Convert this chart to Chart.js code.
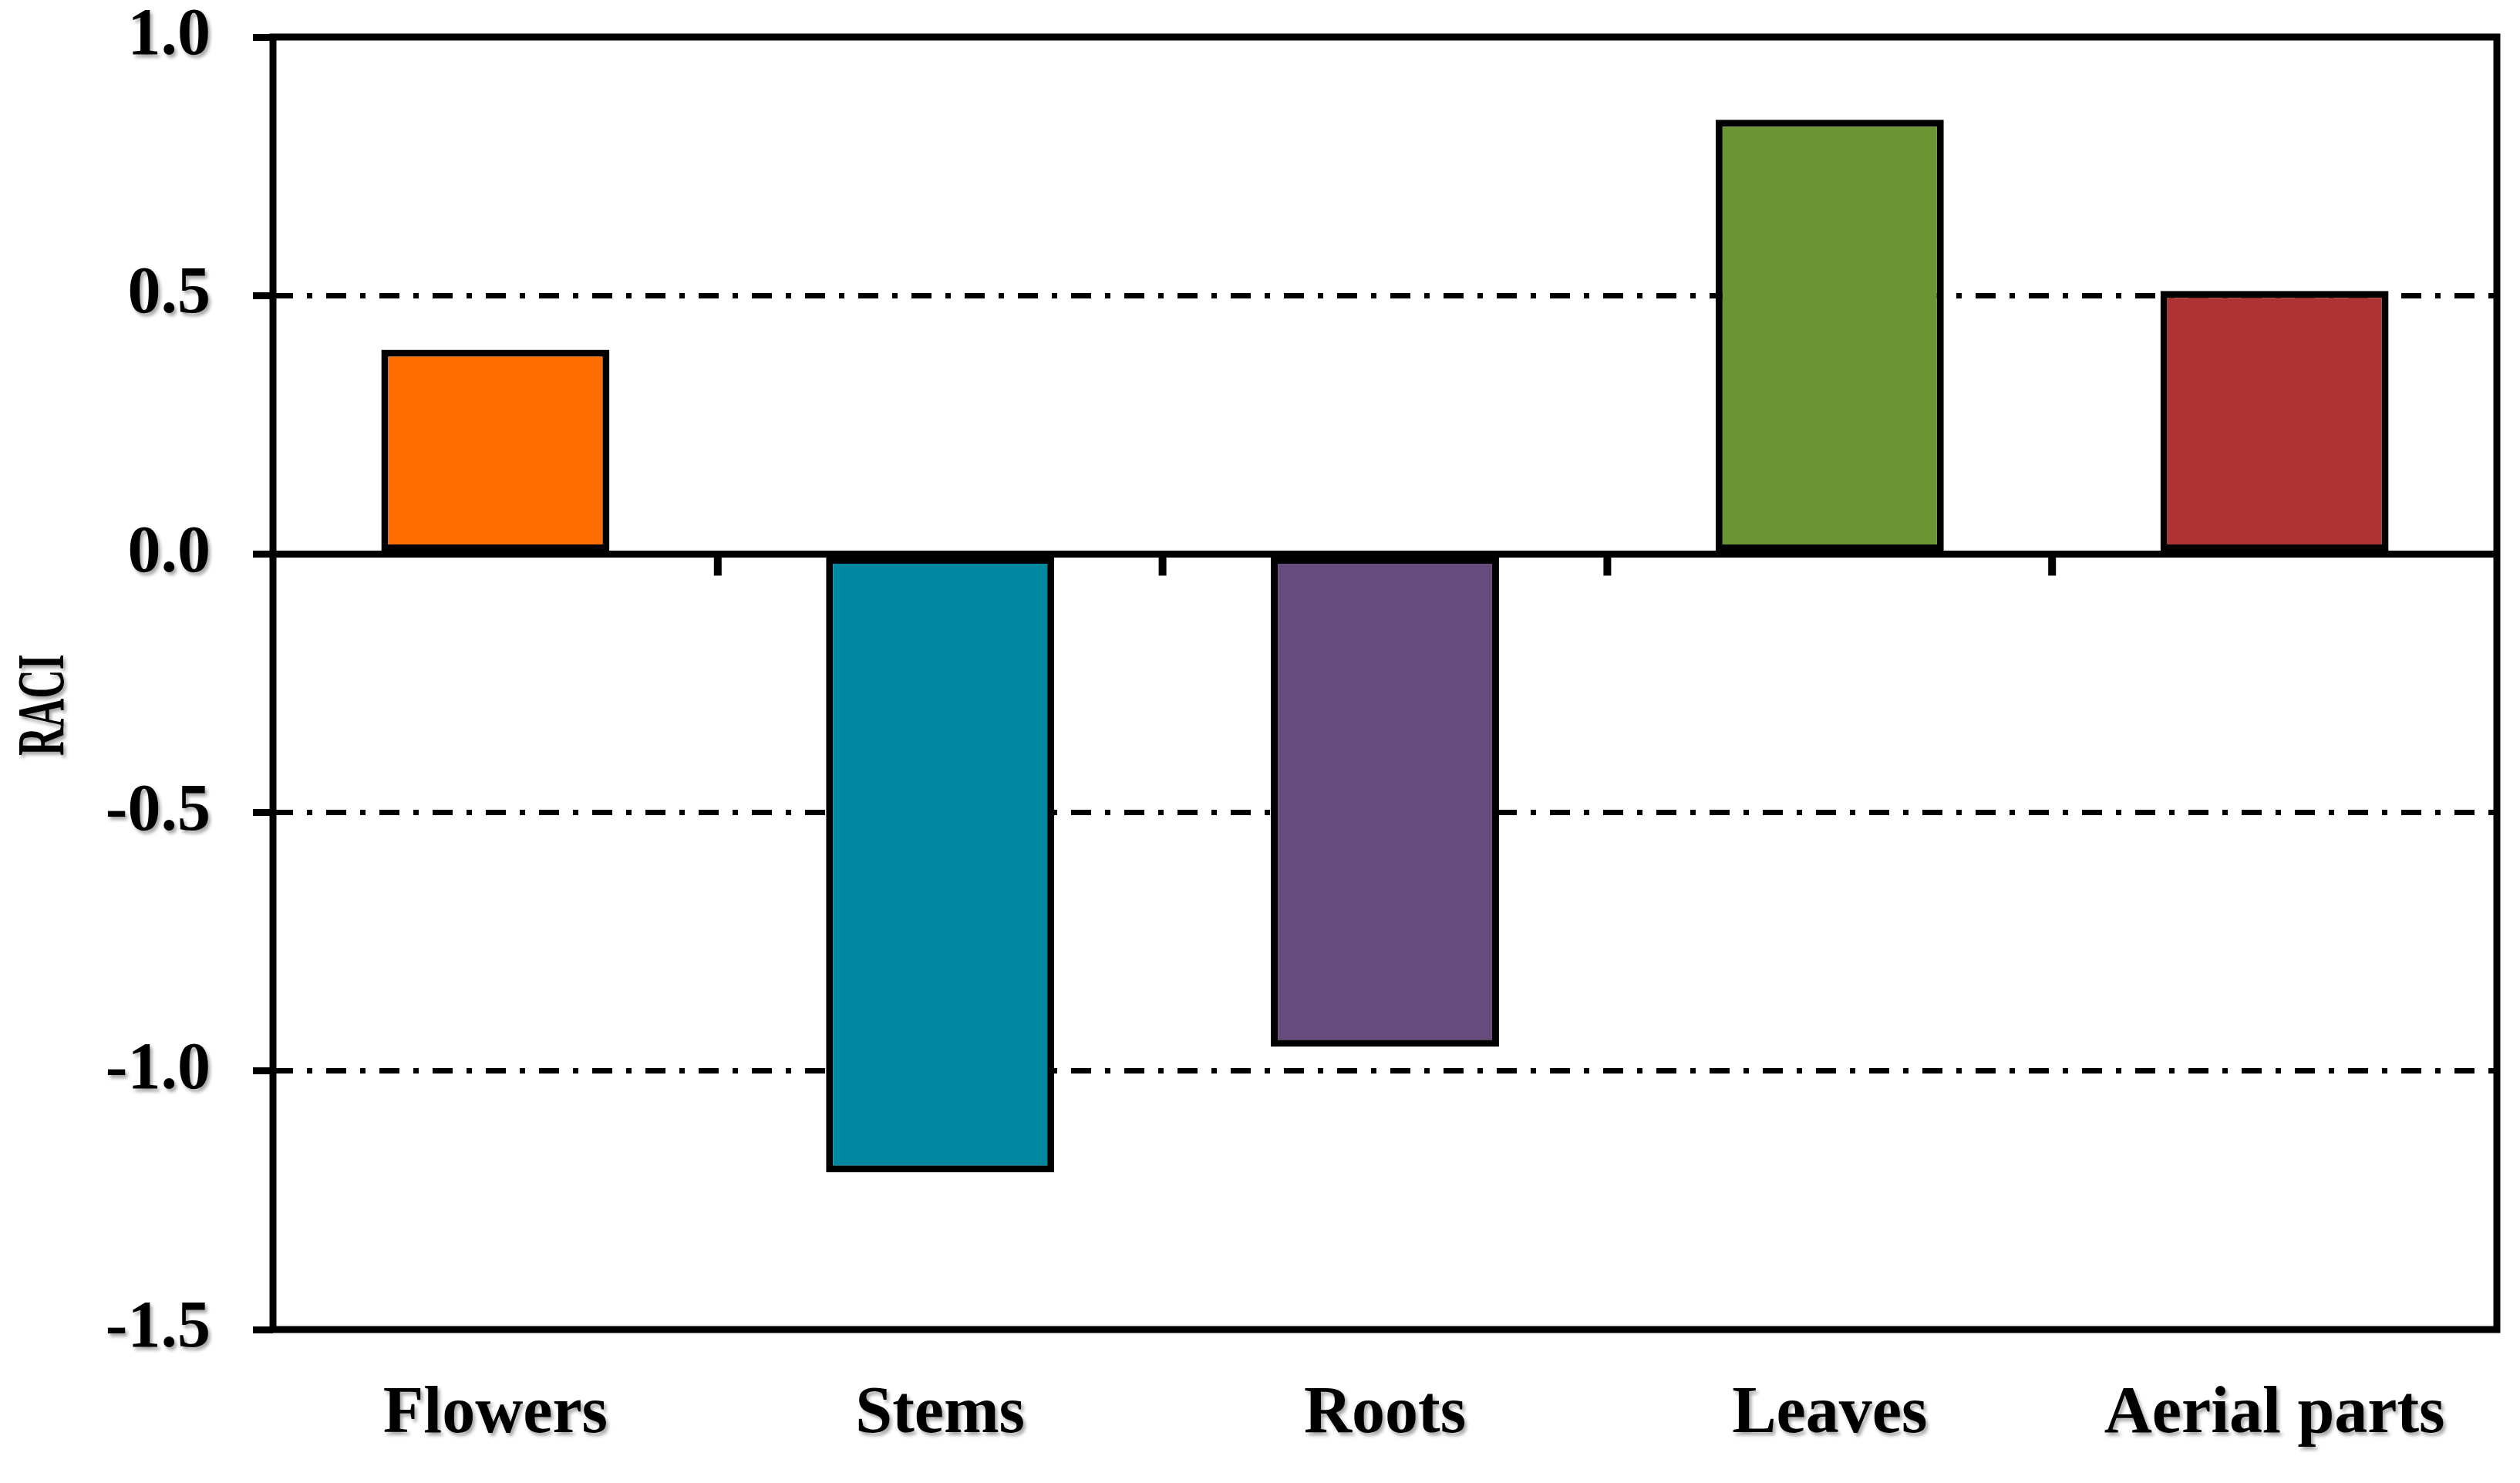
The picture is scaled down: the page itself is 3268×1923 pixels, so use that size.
<!DOCTYPE html>
<html>
<head>
<meta charset="utf-8">
<script src="https://cdn.jsdelivr.net/npm/chart.js@4.4.1/dist/chart.umd.min.js"></script>
<style>
  html, body { margin: 0; padding: 0; background: #ffffff; overflow: hidden; }
  #wrap { width: 3268px; height: 1923px; position: relative; }
</style>
</head>
<body>
<div id="wrap"><canvas id="c" width="3268" height="1923"></canvas></div>
<script>
// ---- data ----
const categories = ['Flowers', 'Stems', 'Roots', 'Leaves', 'Aerial parts'];
const raciValues = [0.395, -1.196, -0.953, 0.840, 0.509];
const barColors = ['#FF6C00', '#0088A0', '#684B7D', '#6A9533', '#AE3335'];
const yTicks = [1.0, 0.5, 0.0, -0.5, -1.0, -1.5];
const dashedGridValues = [0.5, -0.5, -1.0];
const yAxisTitle = 'RACI';

const FONT_FAMILY = '"Liberation Serif", "DejaVu Serif", serif';
const FONT = { family: FONT_FAMILY, size: 86, weight: 'bold' };

const isDashed = v => dashedGridValues.some(d => Math.abs(d - v) < 1e-6);

function setShadow(ctx, on) {
  ctx.shadowColor = on ? 'rgba(0,0,0,0.35)' : 'rgba(0,0,0,0)';
  ctx.shadowOffsetX = on ? 3 : 0;
  ctx.shadowOffsetY = on ? 4 : 0;
  ctx.shadowBlur = on ? 4 : 0;
}

const framePlugin = {
  id: 'frame',
  afterDatasetsDraw(chart) {
    const ctx = chart.ctx;
    const a = chart.chartArea;
    const xs = chart.scales.x;
    const ys = chart.scales.y;
    const y0 = ys.getPixelForValue(0);
    ctx.save();
    setShadow(ctx, false);
    ctx.strokeStyle = '#000';
    ctx.lineCap = 'butt';
    ctx.lineJoin = 'miter';
    // zero line
    ctx.lineWidth = 9;
    ctx.beginPath();
    ctx.moveTo(a.left, y0);
    ctx.lineTo(a.right, y0);
    ctx.stroke();
    // category boundary tick marks below the zero line
    ctx.lineWidth = 10;
    for (let i = 0; i < categories.length - 1; i++) {
      const xb = (xs.getPixelForValue(i) + xs.getPixelForValue(i + 1)) / 2;
      ctx.beginPath();
      ctx.moveTo(xb, y0);
      ctx.lineTo(xb, y0 + 28);
      ctx.stroke();
    }
    // plot frame
    ctx.lineWidth = 9;
    ctx.strokeRect(a.left, a.top, a.right - a.left, a.bottom - a.top);
    ctx.restore();

    // y-axis title (condensed bold serif, rotated)
    ctx.save();
    setShadow(ctx, true);
    ctx.fillStyle = '#000';
    ctx.font = 'bold 86px ' + FONT_FAMILY;
    ctx.textAlign = 'center';
    ctx.textBaseline = 'middle';
    ctx.translate(60, (ys.getPixelForValue(0) + ys.getPixelForValue(-0.5)) / 2 + 28);
    ctx.rotate(-Math.PI / 2);
    ctx.scale(0.6, 1);
    ctx.fillText(yAxisTitle, 0, 0);
    ctx.restore();

    // soft text shadow for the tick labels drawn next
    setShadow(ctx, true);
  },
  afterDraw(chart) {
    setShadow(chart.ctx, false);
  }
};

new Chart(document.getElementById('c'), {
  type: 'bar',
  data: {
    labels: categories,
    datasets: [{
      data: raciValues,
      backgroundColor: barColors,
      borderColor: '#000000',
      borderWidth: 9,
      borderSkipped: false,
      barPercentage: 0.513,
      categoryPercentage: 1.0
    }]
  },
  options: {
    responsive: false,
    devicePixelRatio: 1,
    animation: false,
    layout: { padding: { top: 48, right: 30, left: 0, bottom: 0 } },
    plugins: {
      legend: { display: false },
      tooltip: { enabled: false },
      title: { display: false }
    },
    scales: {
      x: {
        type: 'category',
        position: 'bottom',
        grid: { display: false, drawTicks: false, tickLength: 0 },
        border: { display: false },
        ticks: {
          font: FONT,
          color: '#000',
          padding: 59,
          maxRotation: 0,
          minRotation: 0,
          autoSkip: false,
          z: 1
        },
        afterFit(scale) {
          scale.height = 199;
          scale.paddingLeft = 0;
          scale.paddingRight = 0;
        }
      },
      y: {
        min: -1.5,
        max: 1.0,
        afterBuildTicks(scale) { scale.ticks = yTicks.map(v => ({ value: v })); },
        grid: {
          color: c => (c.tick && isDashed(c.tick.value)) ? '#000000' : 'rgba(0,0,0,0)',
          lineWidth: 7,
          drawTicks: true,
          tickLength: 26,
          tickColor: '#000000',
          tickWidth: 9,
          tickBorderDash: []
        },
        border: { display: false, dash: [26, 18, 7, 18], dashOffset: 0 },
        ticks: {
          font: FONT,
          color: '#000',
          padding: 55,
          z: 1,
          callback: v => Number(v).toFixed(1)
        },
        title: { display: false },
        afterFit(scale) {
          scale.width = 354;
          scale.paddingTop = 0;
          scale.paddingBottom = 0;
        }
      }
    }
  },
  plugins: [framePlugin]
});
</script>
</body>
</html>
